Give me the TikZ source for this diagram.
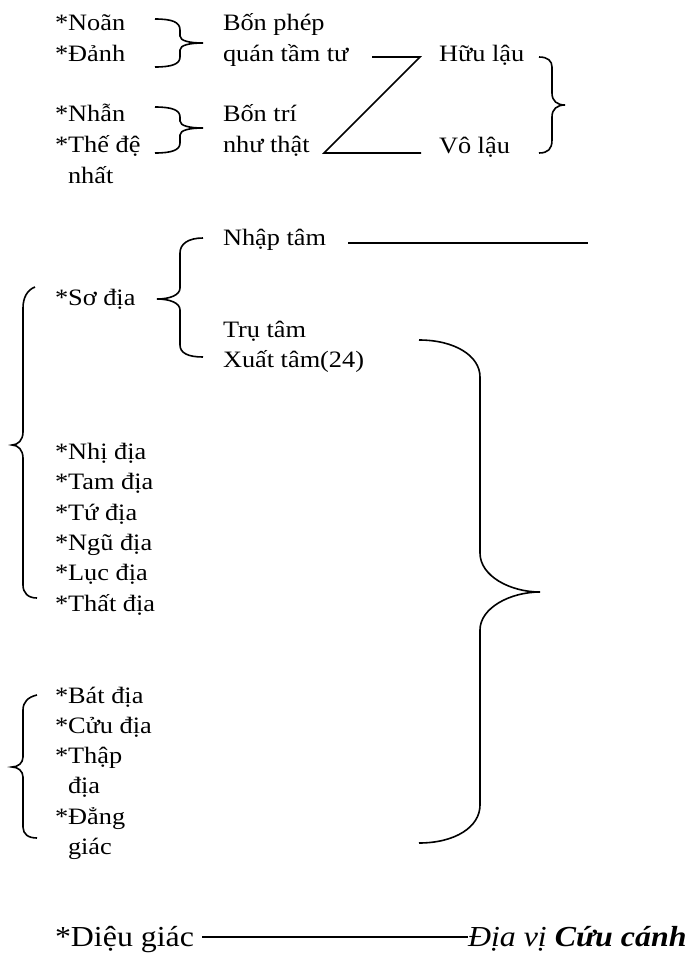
\documentclass[tikz,border=0pt]{standalone}
\usepackage{fontspec}
\setmainfont{Liberation Serif}[FakeStretch=1.12]
\newfontfamily\bigfont{Liberation Serif}[FakeStretch=1.1]
\begin{document}
\begin{tikzpicture}[x=1pt,y=-1pt,
  lbl/.style={inner sep=0pt,outer sep=0pt,anchor=base west,font=\fontsize{23.5}{30}\selectfont},
  biglbl/.style={inner sep=0pt,outer sep=0pt,anchor=base west,font=\bigfont\fontsize{29}{34}\selectfont},
  ln/.style={line width=1.6pt},
  brace/.style={line width=1.6pt}]
\useasboundingbox (0,0) rectangle (690,954);

% top section
\node[lbl] (noan) at (55,30) {*Noãn};
\node[lbl] (danh) at (55,61) {*Đảnh};
\node[lbl] (bonphep) at (223,30) {Bốn phép};
\node[lbl] (quan) at (223,61) {quán tầm tư};
\node[lbl] (nhan) at (55,121) {*Nhẫn};
\node[lbl] (thede) at (55,152) {*Thế đệ};
\node[lbl] (nhat) at (68,183) {nhất};
\node[lbl] (bontri) at (223,121) {Bốn trí};
\node[lbl] (nhuthat) at (223,152) {như thật};
\node[lbl] (huulau) at (439,61) {Hữu lậu};
\node[lbl] (volau) at (439,153) {Vô lậu};

\draw[brace] (155,19) .. controls (172,19) and (180,22) .. (180,30) -- (180,36)
  .. controls (180,41) and (190,43) .. (203,43) .. controls (190,43) and (180,45) .. (180,50)
  -- (180,57) .. controls (180,64) and (172,67) .. (155,67);
\draw[brace] (155,107) .. controls (172,107) and (180,110) .. (180,117) -- (180,121)
  .. controls (180,126) and (190,128) .. (203,128) .. controls (190,128) and (180,130) .. (180,135)
  -- (180,143) .. controls (180,150) and (172,153) .. (155,153);
\draw[brace] (539,57) .. controls (548,57) and (552,61) .. (552,67) -- (552,93)
  .. controls (552,101) and (557,105) .. (565,105) .. controls (557,105) and (552,109) .. (552,117)
  -- (552,140) .. controls (552,149) and (548,153) .. (539,153);

\coordinate (z1) at (372,57);
\coordinate (z2) at (420,57);
\coordinate (z3) at (324,153);
\coordinate (z4) at (421,153);
\draw[ln] (z1) -- (z2) -- (z3) -- (z4);

% middle section
\node[lbl] (nhaptam) at (223,245) {Nhập tâm};
\coordinate (n1) at (348,243);
\coordinate (n2) at (588,243);
\draw[ln] (n1) -- (n2);
\node[lbl] (sodia) at (55,305) {*Sơ địa};
\node[lbl] (trutam) at (223,337) {Trụ tâm};
\node[lbl] (xuattam) at (223,367) {Xuất tâm(24)};

\draw[brace] (203,238) .. controls (188,238) and (180,244) .. (180,253) -- (180,288)
  .. controls (180,295) and (170,299) .. (157,299) .. controls (170,299) and (180,303) .. (180,310)
  -- (180,345) .. controls (180,353) and (188,357) .. (203,357);

\node[lbl] (nhi) at (55,459) {*Nhị địa};
\node[lbl] (tam) at (55,489) {*Tam địa};
\node[lbl] (tu) at (55,520) {*Tứ địa};
\node[lbl] (ngu) at (55,550) {*Ngũ địa};
\node[lbl] (luc) at (55,580) {*Lục địa};
\node[lbl] (that) at (55,611) {*Thất địa};

\draw[brace] (35,287) .. controls (27,290) and (23,298) .. (23,308) -- (23,432)
  .. controls (23,440) and (18,445) .. (12,445) .. controls (18,445) and (23,450) .. (23,458)
  -- (23,585) .. controls (23,593) and (28,598) .. (37,598);

\node[lbl] (bat) at (55,703) {*Bát địa};
\node[lbl] (cuu) at (55,733) {*Cửu địa};
\node[lbl] (thap) at (55,763) {*Thập};
\node[lbl] (thapdia) at (68,793) {địa};
\node[lbl] (dang) at (55,824) {*Đẳng};
\node[lbl] (dangiac) at (68,854) {giác};

\draw[brace] (37,695) .. controls (28,697) and (23,702) .. (23,710) -- (23,757)
  .. controls (23,763) and (18,767) .. (12,767) .. controls (18,767) and (23,771) .. (23,777)
  -- (23,827) .. controls (23,834) and (28,838) .. (37,838);

\draw[brace] (419,340) .. controls (455,340) and (480,356) .. (480,377) -- (480,553)
  .. controls (480,576) and (510,592) .. (540,592) .. controls (510,592) and (480,608) .. (480,630)
  -- (480,805) .. controls (480,827) and (455,843) .. (419,843);

% bottom
\node[biglbl] (dieugiac) at (55,946) {*Diệu giác};
\node[biglbl] (diavi) at (468,946) {\itshape Địa vị \bfseries Cứu cánh};
\coordinate (b1) at (202,937);
\coordinate (b2) at (468,937);
\draw[ln] (b1) -- (b2);
\end{tikzpicture}
\end{document}
